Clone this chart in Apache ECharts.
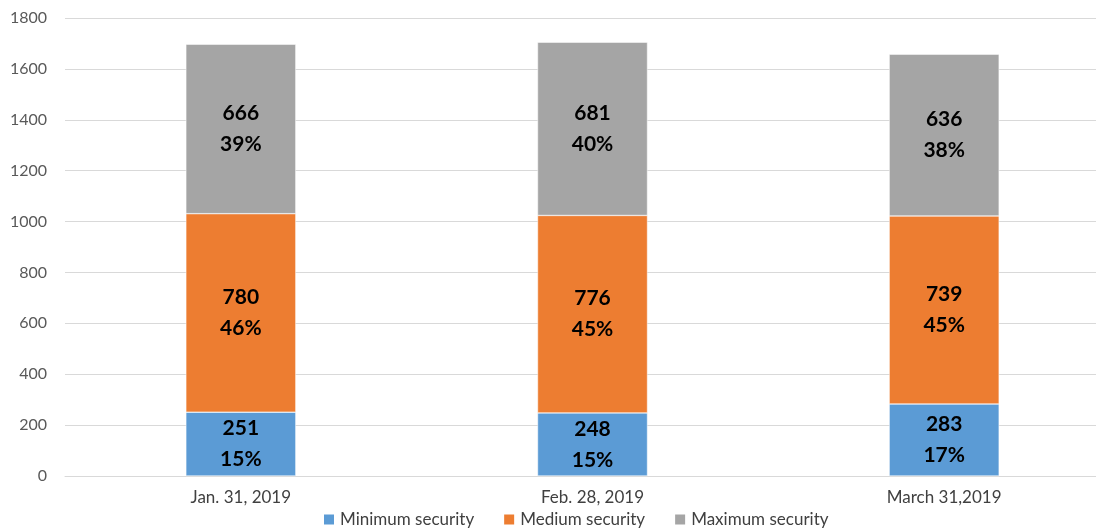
<!DOCTYPE html>
<html>
<head>
<meta charset="utf-8">
<script src="https://cdn.jsdelivr.net/npm/echarts@6/dist/echarts.min.js"></script>
<style>
  html, body { margin: 0; padding: 0; background: #fff; }
  #chart { width: 1096px; height: 529px; }
</style>
</head>
<body>
<div id="chart"></div>
<script>
  const categories = ['Jan. 31, 2019', 'Feb. 28, 2019', 'March 31,2019']
  const minimum = [251, 248, 283]
  const medium = [780, 776, 739]
  const maximum = [666, 681, 636]
  const minimumPct = ['15%', '15%', '17%']
  const mediumPct = ['46%', '45%', '45%']
  const maximumPct = ['39%', '40%', '38%']

  const font = 'Lato, "Open Sans", sans-serif'

  function makeSeries(name, data, pct, color) {
    return {
      name: name,
      type: 'bar',
      stack: 'total',
      barWidth: 110,
      data: data,
      itemStyle: { color: color, borderColor: '#fff', borderWidth: 0.5 },
      label: {
        show: true,
        position: 'inside',
        color: '#000',
        fontFamily: font,
        fontWeight: 'bold',
        fontSize: 21,
        lineHeight: 31,
        formatter: p => p.value + '\n' + pct[p.dataIndex]
      }
    }
  }

  const chart = echarts.init(document.getElementById('chart'))
  chart.setOption({
    animation: false,
    textStyle: { fontFamily: font },
    grid: { left: 65, top: 18, right: -24, height: 458, outerBoundsMode: 'none', containLabel: false },
    legend: {
      bottom: -4,
      left: 317,
      itemWidth: 12,
      itemHeight: 12,
      itemGap: 28,
      icon: 'rect',
      textStyle: { fontSize: 17, color: '#404040', fontFamily: font },
      data: ['Minimum security', 'Medium security', 'Maximum security']
    },
    xAxis: {
      type: 'category',
      data: categories,
      axisLine: { lineStyle: { color: '#d9d9d9' } },
      axisTick: { show: false },
      axisLabel: { color: '#404040', fontSize: 17, margin: 13 }
    },
    yAxis: {
      type: 'value',
      min: 0,
      max: 1800,
      interval: 200,
      axisLine: { show: false },
      axisTick: { show: false },
      splitLine: { lineStyle: { color: '#d9d9d9', width: 1 } },
      axisLabel: { color: '#595959', fontSize: 16, margin: 18, formatter: v => String(v) }
    },
    series: [
      makeSeries('Minimum security', minimum, minimumPct, '#5b9bd5'),
      makeSeries('Medium security', medium, mediumPct, '#ed7d31'),
      makeSeries('Maximum security', maximum, maximumPct, '#a5a5a5')
    ]
  })
</script>
</body>
</html>
